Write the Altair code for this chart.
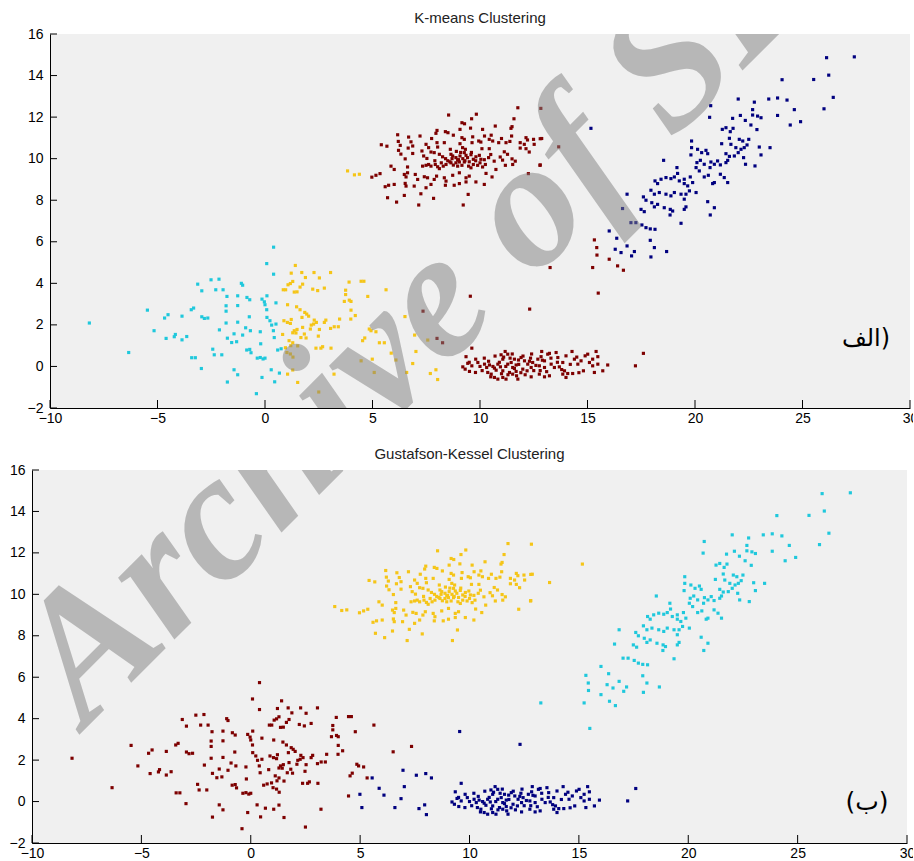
import altair as alt
import pandas as pd

# ---------------- data ----------------
CLUSTERS = ["navy", "cyan", "yellow", "maroon"]
CLUSTER_COLORS = ["#00007f", "#1fc8dc", "#f5c518", "#7d0000"]

X_TICKS = [-10, -5, 0, 5, 10, 15, 20, 25, 30]
Y_TICKS = [-2, 0, 2, 4, 6, 8, 10, 12, 14, 16]

# left blob, K-means cyan / GK maroon
left_cyan = [
    (-8.17, 2.09), (-6.34, 0.67), (-5.47, 2.71), (-5.16, 1.72), (-4.67, 2.33), (-4.51, 2.49),
    (-4.6, 1.35), (-4.22, 1.43), (-4.17, 1.54), (-3.86, 2.42), (-3.86, 1.28), (-3.64, 1.44),
    (-3.43, 2.73), (-3.32, 2.81), (-3.13, 3.96), (-2.94, 3.64), (-2.94, 2.39), (-2.82, 2.31),
    (-2.66, 2.33), (-3.41, 0.42), (-3.24, 0.42), (-2.96, -0.1), (-2.51, 4.17), (-2.14, 4.2),
    (-2.29, 3.69), (-1.95, 3.69), (-1.77, 3.37), (-1.81, 2.92), (-1.81, 2.66), (-1.81, 2.09),
    (-2.12, 1.76), (-1.75, 1.36), (-1.55, 1.15), (-1.32, 1.19), (-1.44, 1.57), (-2.43, 0.83),
    (-2.36, 0.56), (-2.01, 0.56), (-1.27, 3.4), (-1.27, 2.93), (-1.27, 2.13), (-1.1, 4.0),
    (-1.04, 3.91), (-1.04, 1.51), (-0.9, 1.86), (-0.68, 1.72), (-0.73, 2.39), (-0.84, 3.32),
    (-0.71, 3.21), (-0.85, 0.79), (-0.71, 0.82), (-0.65, 0.66), (-1.44, -0.16), (-1.27, -0.4),
    (-1.75, -0.75), (-0.36, 0.4), (-0.22, 0.43), (-0.09, 0.36), (0.0, 0.4), (-0.22, 1.67),
    (-0.2, 1.09), (-0.14, 3.24), (-0.03, 3.11), (0.0, 2.97), (0.09, 3.4), (0.08, 2.73),
    (0.09, 2.36), (0.23, 2.2), (0.31, 1.99), (0.51, 2.04), (0.39, 1.72), (0.43, 1.39),
    (0.51, 3.06), (0.08, 4.95), (0.4, 4.44), (0.4, 5.74), (-0.4, -1.31), (-0.14, -0.53),
    (0.29, -0.16), (0.67, -0.32), (0.45, -0.74), (0.59, 0.79), (0.75, 0.85),
]

# left blob, K-means yellow / GK maroon
left_yellow = [
    (1.41, 4.86), (1.22, 4.49), (1.71, 4.52), (2.28, 4.52), (3.05, 4.52), (1.88, 4.28),
    (2.53, 4.26), (1.29, 4.09), (1.18, 3.99), (1.07, 3.93), (1.75, 3.96), (1.63, 3.82),
    (0.85, 3.69), (0.96, 3.69), (1.36, 3.58), (1.49, 3.59), (2.22, 3.72), (2.45, 3.65),
    (2.76, 3.77), (3.91, 4.06), (4.47, 4.1), (4.6, 4.1), (3.75, 3.67), (3.75, 3.46),
    (3.69, 3.13), (3.92, 3.19), (4.0, 3.13), (4.78, 3.37), (5.63, 3.69), (1.05, 2.97),
    (1.47, 2.87), (1.63, 2.73), (1.85, 2.6), (1.94, 2.52), (2.03, 2.42), (4.0, 2.71),
    (4.2, 2.45), (3.47, 2.28), (3.99, 2.28), (0.88, 2.2), (1.04, 2.12), (1.22, 2.26),
    (1.18, 2.07), (1.72, 2.36), (2.29, 2.23), (2.39, 2.12), (2.83, 2.23), (2.76, 2.12),
    (2.15, 1.99), (2.26, 2.04), (1.75, 1.88), (1.36, 1.72), (1.49, 1.78), (1.29, 1.62),
    (1.44, 1.61), (2.11, 1.8), (2.53, 1.78), (3.05, 1.83), (3.22, 1.91), (3.41, 1.91),
    (1.83, 1.56), (2.48, 1.46), (0.82, 1.54), (1.67, 1.39), (1.91, 1.37), (1.12, 1.24),
    (1.29, 1.14), (1.52, 0.99), (2.6, 0.88), (2.68, 0.95), (3.07, 0.88), (2.37, 0.88),
    (1.02, 0.67), (1.18, 0.6), (4.85, 1.8), (4.93, 1.72), (5.16, 1.67), (4.54, 1.24),
    (4.64, 1.37), (5.32, 1.14), (6.51, 2.4), (4.47, 0.27), (1.29, -0.17), (1.05, -0.37),
    (3.21, -0.37), (1.52, -0.77), (2.5, -1.23), (1.2, 1.0), (0.95, 0.9), (1.3, 0.45),
]

# left blob tail, K-means yellow / GK navy
left_tail = [
    (4.99, 0.35), (5.08, -0.29), (5.55, 1.14), (5.87, 0.64), (6.09, 0.31), (6.59, -0.29),
    (6.87, 0.14), (6.96, 1.51), (7.02, 0.72), (7.57, 1.27), (7.69, -0.34), (7.95, -0.16),
    (8.03, -0.63),
]

# upper blob edge, K-means yellow / GK yellow
upper_edge = [(3.84, 9.41), (4.16, 9.22), (4.39, 9.25)]

# K-means maroon / GK maroon
lone_point = [(7.35, 2.66)]

# lower blob and strays, K-means maroon / GK navy
lower_blob = [
    (8.0, 1.35), (8.26, 1.14), (9.55, 3.38), (12.31, 2.76), (17.6, 0.63), (17.23, 0.03),
    (9.62, 0.88), (9.35, 0.47), (9.2, -0.02), (9.31, -0.13), (9.43, 0.15), (9.51, -0.24),
    (9.62, 0.03), (9.79, -0.29), (9.9, 0.19), (10.21, 0.11), (10.31, -0.05), (10.44, 0.07),
    (10.36, -0.29), (10.52, -0.37), (10.67, -0.08), (10.75, -0.18), (10.83, 0.11), (10.98, 0.56),
    (11.06, 0.35), (11.17, 0.72), (11.29, 0.59), (10.95, -0.02), (11.06, -0.21), (10.67, -0.53),
    (10.83, -0.61), (11.06, -0.53), (11.21, -0.61), (11.29, 0.11), (11.45, 0.19), (11.52, -0.05),
    (11.68, 0.07), (11.6, 0.35), (11.79, 0.31), (11.91, 0.43), (11.37, -0.29), (11.52, -0.37),
    (11.68, -0.24), (11.76, -0.61), (12.07, 0.27), (12.22, 0.11), (12.35, 0.4), (12.45, 0.19),
    (11.99, -0.13), (12.19, -0.21), (12.38, -0.05), (12.69, 0.35), (12.84, 0.47), (13.0, 0.27),
    (13.15, 0.59), (12.87, 0.72), (13.23, 0.63), (12.76, 0.03), (13.0, -0.05), (13.31, 0.11),
    (12.38, -0.5), (12.76, -0.37), (13.23, -0.45), (13.54, 0.67), (13.62, 0.43), (13.85, 0.19),
    (14.0, 0.51), (13.46, -0.05), (13.69, -0.02), (13.93, -0.21), (14.08, -0.34), (14.28, 0.72),
    (14.39, 0.35), (14.55, 0.11), (14.7, 0.27), (14.89, 0.51), (15.01, 0.59), (15.09, 0.19),
    (15.24, 0.35), (15.4, 0.72), (15.48, 0.47), (14.81, -0.21), (15.32, -0.29), (15.71, -0.21),
    (15.94, 0.07), (15.24, 0.03), (15.48, 0.11), (13.85, -0.37), (14.0, -0.53), (14.31, -0.34),
    (10.0, 0.0), (10.1, -0.2), (10.4, 0.25), (10.6, 0.0), (10.9, 0.2), (11.0, -0.35),
    (11.2, 0.0), (11.3, -0.4), (11.4, 0.4), (11.6, -0.1), (11.8, 0.1), (11.9, -0.3),
    (12.0, 0.5), (12.1, -0.4), (12.3, 0.25), (12.5, -0.2), (12.6, 0.05), (12.8, -0.2),
    (12.9, 0.3), (13.1, -0.25), (13.3, 0.4), (13.6, 0.2), (13.8, -0.15), (14.2, 0.1),
    (14.5, 0.45), (14.6, -0.3), (10.2, 0.4), (10.5, -0.5), (11.1, 0.45), (11.5, 0.6),
    (12.4, 0.6), (13.0, -0.5), (9.8, 0.35), (9.5, 0.2), (10.7, 0.5), (11.7, -0.45),
]

# upper blob, K-means maroon / GK yellow
upper_blob = [
    (8.54, 12.1), (9.83, 12.14), (9.61, 11.92), (9.16, 11.73), (9.28, 11.68), (11.76, 12.45),
    (11.58, 11.92), (11.49, 11.54), (11.44, 11.46), (8.0, 11.36), (7.95, 11.22), (8.39, 11.3),
    (8.51, 11.25), (9.07, 11.41), (9.56, 11.47), (10.12, 11.41), (10.71, 11.57), (6.17, 11.15),
    (6.68, 11.04), (7.21, 11.09), (7.75, 10.97), (8.76, 11.13), (9.16, 11.01), (9.27, 10.93),
    (9.66, 11.05), (10.21, 11.09), (10.52, 11.13), (11.0, 10.97), (11.47, 11.09), (12.14, 11.01),
    (12.21, 10.9), (12.49, 10.93), (12.87, 10.97), (5.41, 10.67), (5.67, 10.6), (6.2, 10.83),
    (6.29, 10.64), (6.79, 10.81), (6.87, 10.61), (6.66, 10.51), (7.49, 10.69), (7.61, 10.53),
    (8.0, 10.77), (8.03, 10.56), (8.34, 10.77), (8.62, 10.45), (9.07, 10.72), (9.19, 10.53),
    (9.32, 10.45), (9.63, 10.77), (9.94, 10.85), (10.04, 10.8), (10.43, 10.93), (10.59, 10.85),
    (10.09, 10.48), (10.43, 10.48), (10.87, 10.77), (11.21, 10.77), (11.39, 10.83), (11.87, 10.77),
    (12.06, 10.69), (11.87, 10.51), (12.14, 10.48), (12.52, 10.69), (6.21, 10.4), (6.32, 10.22),
    (6.52, 9.99), (6.87, 10.25), (7.3, 10.37), (7.38, 10.13), (7.53, 10.01), (7.72, 10.32),
    (7.87, 10.29), (8.11, 10.21), (8.26, 10.09), (8.65, 10.21), (8.73, 10.13), (8.88, 10.05),
    (8.96, 9.93), (9.07, 10.13), (9.27, 10.29), (9.35, 10.16), (9.42, 10.05), (9.58, 10.19),
    (9.69, 9.97), (9.81, 10.09), (9.97, 10.16), (10.04, 9.97), (10.0, 9.8), (10.4, 10.05),
    (10.66, 9.88), (10.94, 10.08), (11.05, 9.93), (11.13, 10.33), (11.28, 10.21), (11.49, 9.99),
    (11.64, 9.88), (12.29, 10.32), (5.86, 9.64), (6.01, 9.48), (4.97, 9.11), (5.16, 9.2),
    (5.35, 9.28), (6.63, 9.6), (7.33, 9.64), (7.49, 9.68), (7.61, 9.72), (7.72, 9.64),
    (7.92, 9.72), (8.03, 9.61), (8.11, 9.52), (8.29, 9.64), (8.42, 9.72), (8.65, 9.8),
    (8.76, 9.69), (8.88, 9.8), (8.96, 9.64), (9.04, 9.84), (9.16, 9.68), (9.27, 9.84),
    (9.47, 9.64), (9.58, 9.56), (9.69, 9.72), (9.89, 9.68), (10.12, 9.6), (10.25, 9.72),
    (10.74, 9.48), (11.18, 9.68), (11.52, 9.72), (12.79, 9.68), (6.48, 9.24), (6.56, 9.12),
    (6.63, 9.32), (6.99, 9.24), (7.1, 9.0), (7.41, 9.13), (7.56, 9.08), (7.87, 9.0),
    (7.98, 9.16), (8.34, 9.08), (8.42, 8.92), (8.73, 9.2), (9.04, 9.32), (9.35, 9.08),
    (9.5, 9.16), (9.81, 8.88), (10.28, 9.29), (10.56, 9.12), (5.75, 8.72), (5.59, 8.65),
    (6.01, 8.76), (6.52, 8.81), (6.56, 8.68), (6.94, 8.68), (7.49, 8.6), (7.72, 8.76),
    (8.39, 8.72), (8.8, 8.72), (9.04, 8.8), (9.35, 8.88), (10.2, 8.76), (5.7, 8.12),
    (6.12, 7.91), (6.48, 8.23), (7.25, 8.31), (7.84, 8.09), (7.15, 7.77), (9.22, 7.77),
    (9.45, 8.28), (12.25, 9.28), (12.83, 12.42), (13.66, 10.57), (12.8, 10.96), (12.8, 9.7),
    (8.5, 9.9), (8.7, 10.0), (9.0, 9.95), (9.2, 10.0), (9.3, 9.9), (9.5, 9.85),
    (8.6, 9.85), (9.1, 10.3), (9.6, 10.3), (8.9, 10.35), (9.8, 9.9), (8.4, 10.0),
    (10.2, 9.95), (10.5, 10.2), (7.9, 9.9), (8.2, 9.8),
]

# diagonal foot, K-means maroon / GK cyan
diag_foot = [
    (15.32, 6.09), (15.43, 5.72), (15.44, 5.36), (15.24, 4.76), (16.01, 5.16), (16.4, 4.84),
    (16.67, 4.63), (15.5, 3.53), (13.26, 4.76),
]

# diagonal band, K-means navy / GK cyan
diag_band = [
    (27.41, 14.9), (26.12, 14.86), (26.22, 14.02), (25.52, 13.81), (24.05, 13.8), (26.43, 12.95),
    (26.0, 12.4), (22.01, 12.87), (22.76, 12.72), (23.43, 12.87), (23.84, 12.92), (24.28, 12.82),
    (24.62, 12.36), (24.43, 11.62), (24.91, 11.78), (23.84, 12.08), (20.73, 12.55), (20.68, 11.99),
    (21.75, 11.94), (22.11, 12.08), (22.34, 11.84), (22.68, 12.36), (22.68, 12.1), (22.91, 12.05),
    (23.07, 11.97), (22.6, 11.62), (22.88, 11.4), (21.27, 11.41), (21.44, 11.49), (21.64, 11.3),
    (21.77, 11.46), (21.6, 10.98), (22.06, 10.93), (22.22, 10.85), (22.5, 10.93), (22.99, 10.56),
    (23.07, 10.18), (23.49, 10.53), (21.24, 10.72), (21.67, 10.69), (21.9, 10.53), (22.14, 10.45),
    (22.29, 10.53), (22.42, 10.66), (21.44, 10.24), (21.6, 10.11), (21.83, 10.13), (22.01, 10.29),
    (22.26, 10.05), (22.79, 9.65), (22.35, 9.73), (19.84, 10.85), (19.84, 10.53), (19.81, 10.18),
    (20.12, 10.45), (20.31, 10.29), (20.51, 10.4), (20.59, 10.24), (20.09, 9.81), (20.25, 9.92),
    (20.43, 9.73), (20.74, 9.84), (20.9, 9.73), (21.05, 9.89), (21.18, 9.7), (20.7, 9.57),
    (21.44, 9.81), (21.52, 9.92), (18.54, 9.92), (19.16, 9.57), (19.19, 9.29), (20.05, 9.57),
    (20.2, 9.41), (21.18, 9.25), (21.36, 9.09), (21.52, 8.85), (20.62, 9.2), (20.82, 8.8),
    (20.9, 8.85), (20.43, 9.12), (18.14, 8.93), (18.26, 8.8), (18.42, 9.01), (18.65, 9.09),
    (18.88, 9.04), (19.04, 9.12), (19.27, 8.93), (19.5, 9.01), (19.78, 9.12), (19.5, 8.8),
    (19.66, 8.69), (19.89, 8.85), (17.95, 8.48), (18.11, 8.29), (18.34, 8.37), (18.65, 8.29),
    (18.88, 8.21), (19.04, 8.37), (19.35, 8.29), (19.58, 8.29), (19.74, 8.45), (20.05, 8.37),
    (19.5, 8.05), (16.84, 8.29), (17.6, 8.16), (17.72, 8.0), (17.99, 7.88), (18.11, 7.68),
    (18.26, 7.8), (18.57, 7.64), (17.49, 7.56), (17.64, 7.45), (18.85, 7.56), (18.96, 7.48),
    (19.5, 7.56), (19.58, 7.68), (20.59, 7.93), (20.71, 7.29), (20.9, 7.64), (18.84, 7.29),
    (16.63, 7.6), (19.35, 6.89), (17.02, 6.92), (17.25, 6.92), (17.53, 6.81), (17.72, 6.68),
    (17.92, 6.62), (18.14, 6.6), (16.01, 6.52), (16.36, 6.17), (16.84, 5.8), (17.18, 5.53),
    (16.29, 5.64), (16.56, 5.48), (17.05, 5.32), (17.92, 6.07), (18.11, 5.72), (17.95, 5.27),
    (18.68, 5.53),
]

# stray point, K-means navy / GK yellow
stray_point = [(15.16, 11.46)]

# (K-means cluster, Gustafson-Kessel cluster, points)
GROUPS = [
    ("cyan", "maroon", left_cyan),
    ("yellow", "maroon", left_yellow),
    ("yellow", "navy", left_tail),
    ("yellow", "yellow", upper_edge),
    ("maroon", "maroon", lone_point),
    ("maroon", "navy", lower_blob),
    ("maroon", "yellow", upper_blob),
    ("maroon", "cyan", diag_foot),
    ("navy", "cyan", diag_band),
    ("navy", "yellow", stray_point),
]

TITLES = ["K-means Clustering", "Gustafson-Kessel Clustering"]
TAGS = ["الف)", "(ب)"]
WATERMARK = "Archive of SID"

rows = [{"x": px, "y": py, "km": km, "gk": gk}
        for km, gk, pts in GROUPS for px, py in pts]
df = pd.DataFrame(rows)

FONT = "Liberation Sans"
PLOT_BG = "#f0f0f0"
x_scale = alt.Scale(domain=[-10, 30], nice=False, zero=False)
y_scale = alt.Scale(domain=[-2, 16], nice=False, zero=False)
color_scale = alt.Scale(domain=CLUSTERS, range=CLUSTER_COLORS)


def panel(field, title, w, h, min_ext, xpad, tag, tag_pos, tag_size, wm_pos):
    xax = alt.Axis(values=X_TICKS, title=None, ticks=False, labelPadding=xpad,
                   labelFlush=False, labelOverlap=False, grid=False,
                   domainColor="black", labelColor="black", labelFont=FONT,
                   labelFontSize=14)
    yax = alt.Axis(values=Y_TICKS, title=None, ticks=False, labelPadding=7,
                   labelOverlap=False, grid=False, domainColor="black",
                   labelColor="black", labelFont=FONT, labelFontSize=14,
                   minExtent=min_ext)
    pts = alt.Chart(df).mark_square(size=10, opacity=1).encode(
        x=alt.X("x:Q", scale=x_scale, axis=xax),
        y=alt.Y("y:Q", scale=y_scale, axis=yax),
        color=alt.Color(f"{field}:N", scale=color_scale, legend=None),
    )
    xt = alt.Chart(pd.DataFrame({"v": X_TICKS})).mark_rule(
        color="black", strokeWidth=1).encode(
        x=alt.X("v:Q", scale=x_scale, axis=xax),
        y=alt.value(h), y2=alt.value(h - 8))
    yt = alt.Chart(pd.DataFrame({"v": Y_TICKS})).mark_rule(
        color="black", strokeWidth=1).encode(
        y=alt.Y("v:Q", scale=y_scale, axis=yax),
        x=alt.value(0), x2=alt.value(7))
    tg = alt.Chart(alt.Data(values=[{"t": tag}])).mark_text(
        font="DejaVu Sans", fontSize=tag_size, color="black", align="center",
        baseline="middle").encode(
        text="t:N", x=alt.value(tag_pos[0]), y=alt.value(tag_pos[1]))
    wm = alt.Chart(alt.Data(values=[{"t": WATERMARK}])).mark_text(
        font="Liberation Serif", fontStyle="italic", fontWeight="bold",
        fontSize=182, angle=315, align="left", baseline="alphabetic",
        color="#808080", opacity=0.5, clip=True).encode(
        text="t:N", x=alt.value(wm_pos[0]), y=alt.value(wm_pos[1]))
    return alt.layer(pts, xt, yt, tg, wm).properties(
        width=w, height=h,
        view=alt.ViewBackground(fill=PLOT_BG, strokeWidth=0),
        title=alt.TitleParams(title, fontSize=15, fontWeight="normal", font=FONT,
                              color="#222222", offset=1, anchor="middle"),
    )


top = panel("km", TITLES[0], 860, 374, 0, 3, TAGS[0], (816, 305), 24, (36, 693))
bottom = panel("gk", TITLES[1], 875, 373, 30, 3, TAGS[1], (835, 332), 25, (54, 258))

# a 1px blank column that shifts the upper panel to the right of the lower one
spacer = alt.Chart(alt.Data(values=[{"t": ""}])).mark_point(opacity=0).encode(
    x=alt.value(0), y=alt.value(0)
).properties(width=1, height=374,
             view=alt.ViewBackground(fill="white", strokeWidth=0))

top_row = alt.HConcatChart(hconcat=[spacer, top], spacing=-8)

chart = alt.VConcatChart(
    vconcat=[top_row, bottom], spacing=22,
    padding={"left": 2, "top": 11, "right": -5, "bottom": 0},
).configure(background="white")

chart.save("out.html", embed_options={"renderer": "svg", "actions": False})
